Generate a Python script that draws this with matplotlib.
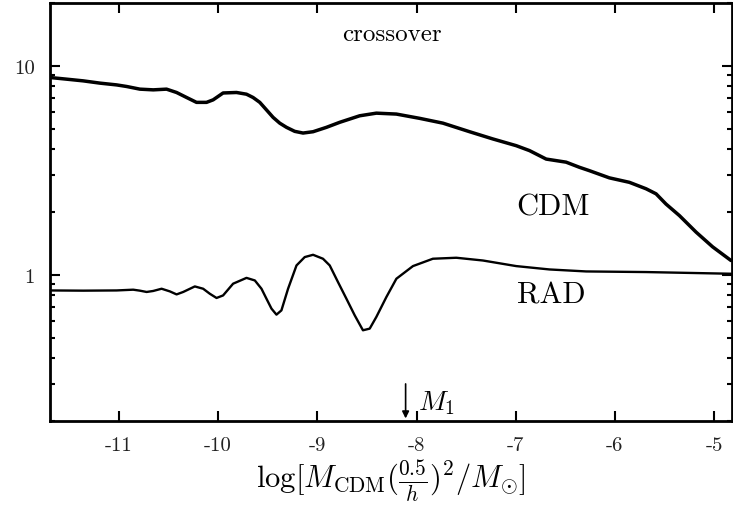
import numpy as np
import matplotlib
matplotlib.use("Agg")
from matplotlib import pyplot as plt
from matplotlib.ticker import LogLocator, NullFormatter

plt.rcParams['font.family'] = ['cmr10', 'DejaVu Serif']
plt.rcParams['mathtext.fontset'] = 'cm'
plt.rcParams['axes.unicode_minus'] = False

# CDM transfer curve (upper)
cdm_x = [-11.695, -11.527, -11.360, -11.191, -11.023, -10.922, -10.789, -10.654,
         -10.520, -10.419, -10.318, -10.218, -10.117, -10.050, -9.950, -9.815,
         -9.714, -9.648, -9.580, -9.513, -9.446, -9.379, -9.311, -9.228, -9.144,
         -9.043, -8.908, -8.774, -8.573, -8.405, -8.203, -7.969, -7.734, -7.465,
         -7.231, -6.995, -6.861, -6.693, -6.492, -6.358, -6.257, -6.056, -5.854,
         -5.686, -5.585, -5.485, -5.350, -5.182, -5.015, -4.830]
cdm_y = [8.80, 8.64, 8.48, 8.27, 8.11, 7.97, 7.74, 7.68,
         7.74, 7.46, 7.06, 6.69, 6.69, 6.88, 7.42, 7.46,
         7.32, 7.06, 6.69, 6.16, 5.67, 5.32, 5.08, 4.86, 4.77,
         4.84, 5.08, 5.37, 5.77, 5.94, 5.88, 5.61, 5.32, 4.84,
         4.47, 4.15, 3.93, 3.58, 3.46, 3.27, 3.15, 2.91, 2.77,
         2.58, 2.44, 2.18, 1.92, 1.60, 1.36, 1.17]

# RAD transfer curve (lower)
rad_x = [-11.695, -11.360, -11.023, -10.856, -10.789, -10.721, -10.655, -10.570,
         -10.486, -10.419, -10.352, -10.235, -10.151, -10.084, -10.016, -9.950,
         -9.849, -9.714, -9.630, -9.563, -9.513, -9.462, -9.412, -9.362, -9.295,
         -9.210, -9.127, -9.043, -8.943, -8.875, -8.792, -8.707, -8.623, -8.540,
         -8.472, -8.405, -8.304, -8.203, -8.036, -7.835, -7.599, -7.331, -6.995,
         -6.660, -6.290, -5.686, -4.830]
rad_y = [0.841, 0.839, 0.841, 0.848, 0.839, 0.827, 0.836, 0.857,
         0.832, 0.805, 0.827, 0.879, 0.857, 0.811, 0.774, 0.796,
         0.906, 0.966, 0.939, 0.857, 0.768, 0.688, 0.644, 0.675, 0.857,
         1.108, 1.215, 1.246, 1.193, 1.108, 0.923, 0.768, 0.639, 0.542,
         0.552, 0.628, 0.782, 0.957, 1.100, 1.193, 1.206, 1.170, 1.100,
         1.060, 1.037, 1.030, 1.011]

xticks = [-11, -10, -9, -8, -7, -6, -5]
xticklabels = ['-11', '-10', '-9', '-8', '-7', '-6', '-5']
yticks = [1, 10]
yticklabels = ['1', '10']
m1_x = -8.11

fig = plt.figure(figsize=(7.33, 5.06), dpi=100)
ax = fig.add_axes([0.0682, 0.1666, 0.9304, 0.8254])

ax.plot(cdm_x, cdm_y, color='black', lw=2.5, solid_joinstyle='round',
        solid_capstyle='round')
ax.plot(rad_x, rad_y, color='black', lw=1.7, solid_joinstyle='round',
        solid_capstyle='round')

ax.set_yscale('log')
ax.set_xlim(-11.695, -4.82)
ax.set_ylim(0.2, 20)

ax.set_xticks(xticks)
ax.set_xticklabels(xticklabels)
ax.set_yticks(yticks)
ax.set_yticklabels(yticklabels)
ax.yaxis.set_minor_locator(LogLocator(base=10, subs=np.arange(2, 10)))
ax.yaxis.set_minor_formatter(NullFormatter())

ax.tick_params(which='both', direction='in', top=True, right=True, width=1.5)
ax.tick_params(which='major', length=7.5, labelsize=15, colors='black',
               labelcolor='#222222')
ax.tick_params(axis='x', which='major', pad=11)
ax.tick_params(axis='y', which='major', pad=11)
ax.tick_params(which='minor', length=3.6)
for sp in ax.spines.values():
    sp.set_linewidth(2.0)

ax.text(-8.25, 14.3, 'crossover', ha='center', va='center', fontsize=18)
ax.text(-6.99, 2.11, 'CDM', ha='left', va='center', fontsize=22)
ax.text(-6.99, 0.80, 'RAD', ha='left', va='center', fontsize=22)

ax.annotate('', xy=(m1_x, 0.205), xytext=(m1_x, 0.30),
            arrowprops=dict(arrowstyle='-|>', color='black', lw=1.2,
                            mutation_scale=10, shrinkA=0, shrinkB=0))
ax.text(m1_x + 0.12, 0.245, r'$M_1$', ha='left', va='center', fontsize=20)

ax.set_xlabel(r'$\log[M_{\rm CDM}(\frac{0.5}{h})^2/M_{\odot}]$', fontsize=22,
              labelpad=2)

fig.savefig('out.png', dpi=100)
